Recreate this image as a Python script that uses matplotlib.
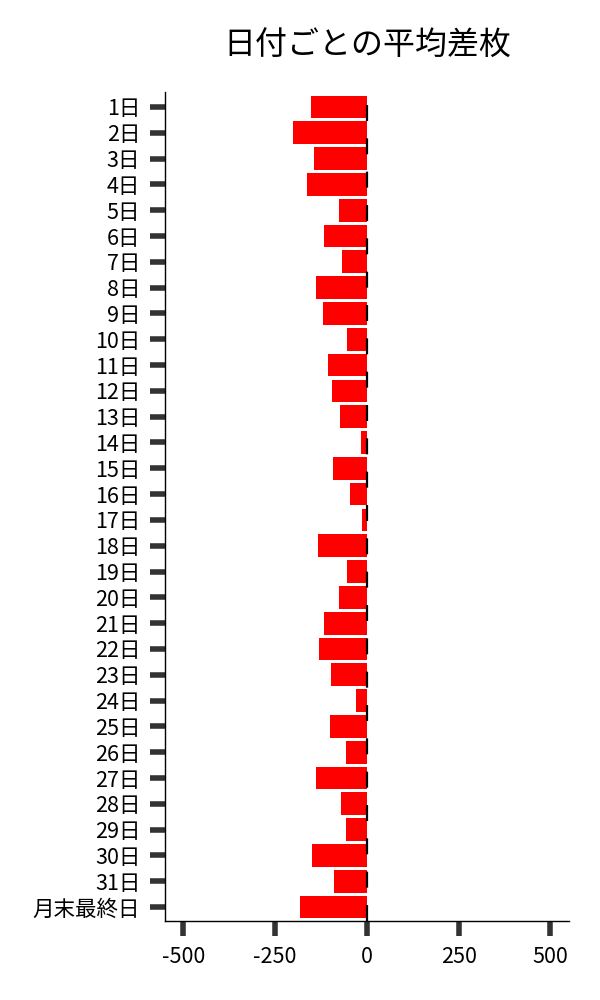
import matplotlib.pyplot as plt

plt.rcParams['font.family'] = ['Noto Sans CJK JP', 'DejaVu Sans']

# Data
days = [f'{d}日' for d in range(1, 32)] + ['月末最終日']
avg_diff = [-152, -200, -143, -162, -75, -116, -67, -140, -119, -54,
            -105, -94, -72, -15, -92, -45, -13, -132, -54, -75,
            -116, -130, -97, -29, -100, -57, -138, -70, -57, -149,
            -90, -182]
x_ticks = [-500, -250, 0, 250, 500]

# Plotting
fig = plt.figure(figsize=(6, 10), dpi=100)
ax = fig.add_axes([0.275, 0.079, 0.673, 0.829])

ax.barh(range(len(days)), avg_diff, height=0.88, color='#ff0000', zorder=2)
ax.axvline(0, color='black', lw=1.6, linestyle=(0, (7.2, 7.8)), zorder=3)

ax.set_xlim(-550, 550)
ax.set_ylim(len(days) - 0.46, -0.58)
ax.set_yticks(range(len(days)))
ax.set_yticklabels(days)
ax.set_xticks(x_ticks)
ax.set_xticklabels([str(v) for v in x_ticks])

ax.spines['top'].set_visible(False)
ax.spines['right'].set_visible(False)
ax.spines['left'].set_linewidth(1)
ax.spines['bottom'].set_linewidth(1)
ax.tick_params(axis='both', length=10.8, width=4, color='#333333',
               labelsize=15.5, pad=7)

ax.set_title('日付ごとの平均差枚', fontsize=23, pad=27)

fig.savefig('out.png', dpi=100)
